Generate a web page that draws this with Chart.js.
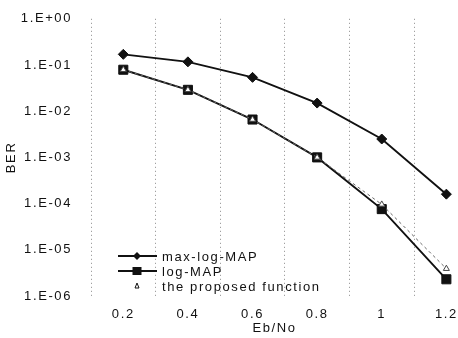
<!DOCTYPE html>
<html>
<head>
<meta charset="utf-8">
<script src="https://cdn.jsdelivr.net/npm/chart.js@4.4.0/dist/chart.umd.min.js"></script>
<style>
  body { margin: 0; background: #fff; overflow: hidden; }
</style>
</head>
<body>
<canvas id="berChart" width="458" height="338"></canvas>
<script>
// Eb/No werte (x) und BER kurven
const ebNo = [0.2, 0.4, 0.6, 0.8, 1.0, 1.2];
const maxLogMap = [0.17, 0.117, 0.054, 0.015, 0.0025, 0.00016];
const logMap = [0.079, 0.029, 0.0066, 0.001, 0.000076, 0.0000023];
const proposedFn = [0.079, 0.029, 0.0066, 0.001, 0.000096, 0.0000039];
const berTicks = [1, 1e-1, 1e-2, 1e-3, 1e-4, 1e-5, 1e-6];
const xTicks = [0.1, 0.2, 0.3, 0.4, 0.5, 0.6, 0.7, 0.8, 0.9, 1.0, 1.1, 1.2];
const seriesNames = ["max-log-MAP", "log-MAP", "the proposed function"];

const toPoints = arr => arr.map((v, i) => ({ x: ebNo[i], y: v }));

function berLabel(v) {
    const e = Math.round(Math.log10(v));
    const abs = String(Math.abs(e)).padStart(2, "0");
    return "1.E" + (e >= 0 ? "+" : "-") + abs;
}

// tenth-index eines tick wertes
function tenth(v) {
    return Math.round(v * 10);
}

Chart.defaults.font.family = "'Liberation Sans', Arial, sans-serif";
Chart.defaults.font.size = 13;
Chart.defaults.color = "#111";

// buchstabenabstand wie im scan
const spacingPlugin = {
    id: "spacing",
    beforeDraw(chart) {
        chart.ctx.letterSpacing = "1.6px";
    }
};

// legende innerhalb vom plot, unten links
const innerLegend = {
    id: "innerLegend",
    afterDatasetsDraw(chart) {
        const ctx = chart.ctx;
        const area = chart.chartArea;
        const x0 = area.left + 27;
        const rows = [256, 271, 286];
        ctx.save();
        chart.data.datasets.forEach((ds, i) => {
            const y = rows[i];
            const mx = x0 + 19;
            if (i < 2) {
                ctx.strokeStyle = ds.borderColor;
                ctx.lineWidth = ds.borderWidth;
                ctx.setLineDash([]);
                ctx.beginPath();
                ctx.moveTo(x0, y);
                ctx.lineTo(x0 + 39, y);
                ctx.stroke();
            }
            ctx.fillStyle = "#111";
            ctx.strokeStyle = "#111";
            ctx.lineWidth = 1;
            ctx.beginPath();
            if (ds.pointStyle === "rectRot") {
                ctx.moveTo(mx, y - 4);
                ctx.lineTo(mx + 4, y);
                ctx.lineTo(mx, y + 4);
                ctx.lineTo(mx - 4, y);
                ctx.closePath();
                ctx.fill();
            } else if (ds.pointStyle === "rect") {
                ctx.rect(mx - 4.5, y - 4, 9, 8);
                ctx.fill();
            } else {
                ctx.moveTo(mx - 2, y + 2);
                ctx.lineTo(mx, y - 3);
                ctx.lineTo(mx + 2, y + 2);
                ctx.closePath();
                ctx.stroke();
            }
            ctx.fillStyle = "#111";
            ctx.font = "13px 'Liberation Sans', Arial, sans-serif";
            ctx.textAlign = "left";
            ctx.textBaseline = "middle";
            ctx.fillText(ds.label, x0 + 44, y + 1);
        });
        ctx.restore();
    }
};

const ctx = document.getElementById("berChart").getContext("2d");

new Chart(ctx, {
    type: "line",
    data: {
        datasets: [
            {
                label: seriesNames[0],
                data: toPoints(maxLogMap),
                borderColor: "#111",
                backgroundColor: "#111",
                borderWidth: 1.9,
                pointStyle: "rectRot",
                pointRadius: 5,
                pointBorderWidth: 1,
                order: 2
            },
            {
                label: seriesNames[1],
                data: toPoints(logMap),
                borderColor: "#111",
                backgroundColor: "#111",
                borderWidth: 1.9,
                pointStyle: "rect",
                pointRadius: 6.4,
                pointBorderWidth: 1,
                order: 3
            },
            {
                label: seriesNames[2],
                data: toPoints(proposedFn),
                borderColor: "#666",
                backgroundColor: "#fff",
                borderWidth: 1,
                borderDash: [3, 3],
                pointStyle: "triangle",
                pointRadius: 3.5,
                pointBorderColor: "#444",
                pointBorderWidth: 1,
                order: 1
            }
        ]
    },
    options: {
        responsive: false,
        animation: false,
        layout: {
            autoPadding: false,
            padding: { top: 12, left: 0, right: 0, bottom: 0 }
        },
        plugins: {
            legend: { display: false },
            tooltip: { enabled: false }
        },
        scales: {
            x: {
                type: "linear",
                min: 0.1,
                max: 1.236,
                border: { display: false, dash: [1, 3] },
                afterBuildTicks: function(scale) {
                    scale.ticks = xTicks.map(v => ({ value: v }));
                },
                grid: {
                    drawTicks: false,
                    lineWidth: 1,
                    color: function(c) {
                        const t = tenth(c.tick.value);
                        return (t % 2 === 1) ? "#8a8a8a" : "rgba(0,0,0,0)";
                    }
                },
                ticks: {
                    padding: 11,
                    maxRotation: 0,
                    autoSkip: false,
                    callback: function(value) {
                        const t = tenth(value);
                        return (t % 2 === 0) ? String(t / 10) : "";
                    }
                },
                title: {
                    display: true,
                    text: "Eb/No",
                    padding: { top: 0, bottom: 2 }
                },
                afterFit: function(scale) {
                    scale.height = 42;
                    scale.paddingLeft = 0;
                    scale.paddingRight = 0;
                }
            },
            y: {
                type: "logarithmic",
                min: 1e-6,
                max: 1,
                border: { display: false },
                grid: { display: false },
                afterBuildTicks: function(scale) {
                    scale.ticks = berTicks.map(v => ({ value: v }));
                },
                ticks: {
                    padding: 11,
                    autoSkip: false,
                    callback: function(value) { return berLabel(value); }
                },
                title: {
                    display: true,
                    text: "BER"
                },
                afterFit: function(scale) { scale.width = 91; }
            }
        }
    },
    plugins: [spacingPlugin, innerLegend]
});
</script>
</body>
</html>
